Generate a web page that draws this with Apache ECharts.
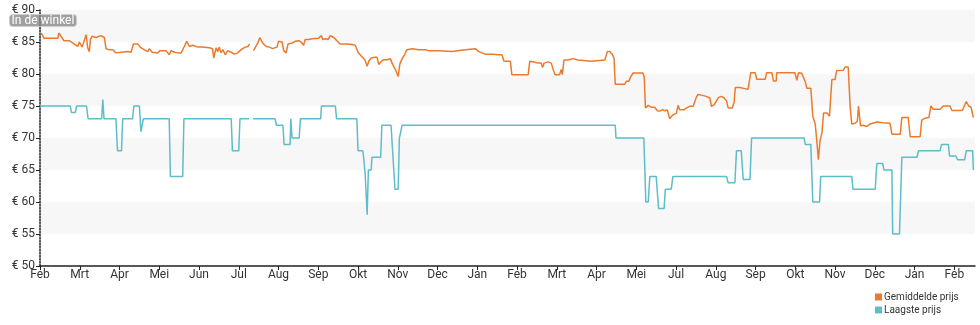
<!DOCTYPE html>
<html>
<head>
<meta charset="utf-8">
<script src="https://cdn.jsdelivr.net/npm/echarts@6/dist/echarts.min.js"></script>
<style>
html,body{margin:0;padding:0;background:#fff;}
#chart{width:980px;height:325px;}
</style>
</head>
<body>
<div id="chart"></div>
<script>
// x values are months since the first February (0 = Feb, 1 = Mrt, ...)
var tickLabels = ['Feb','Mrt','Apr','Mei','Jun','Jul','Aug','Sep','Okt','Nov','Dec','Jan',
                  'Feb','Mrt','Apr','Mei','Jul','Aug','Sep','Okt','Nov','Dec','Jan','Feb'];
var seriesNames = ['Gemiddelde prijs', 'Laagste prijs'];

var avgT = [0.03,0.10,0.45,0.47,0.53,0.60,0.73,0.82,0.95,0.99,1.03,1.06,1.11,1.16,1.20,1.24,1.27,1.31,1.41,1.53,
  1.62,1.66,1.74,1.83,1.91,2.04,2.21,2.29,2.35,2.46,2.52,2.62,2.71,2.75,2.82,2.96,3.02,3.17,3.25,3.30,
  3.38,3.46,3.55,3.63,3.69,3.76,3.84,3.97,4.09,4.26,4.34,4.37,4.43,4.47,4.51,4.55,4.60,4.66,4.72,4.81,
  4.89,4.93,4.97,5.06,5.11,5.16,5.23,5.27,5.32,5.37,5.48,5.53,5.60,5.69,5.77,5.85,5.96,6.00,6.09,6.13,
  6.19,6.24,6.34,6.42,6.51,6.59,6.63,6.67,6.76,6.84,7.01,7.08,7.11,7.18,7.25,7.30,7.39,7.47,7.55,7.72,
  7.85,7.93,8.00,8.08,8.17,8.23,8.27,8.33,8.42,8.48,8.52,8.59,8.65,8.73,8.81,8.87,8.94,9.01,9.05,9.11,
  9.17,9.23,9.36,9.53,9.69,9.78,10.03,10.36,10.70,10.95,11.04,11.20,11.37,11.54,11.62,11.67,11.83,11.87,12.28,12.32,
  12.40,12.53,12.61,12.64,12.68,12.78,12.86,12.91,12.95,13.07,13.11,13.14,13.18,13.28,13.41,13.45,13.53,13.58,13.87,13.91,
  14.21,14.27,14.33,14.39,14.44,14.47,14.71,14.75,14.81,14.86,14.92,15.17,15.20,15.23,15.30,15.38,15.46,15.53,15.59,15.65,
  15.72,15.78,15.84,15.90,15.95,16.01,16.05,16.09,16.13,16.20,16.26,16.34,16.43,16.51,16.55,16.64,16.76,16.85,16.89,16.96,
  17.01,17.07,17.14,17.21,17.27,17.31,17.41,17.46,17.49,17.60,17.64,17.81,17.88,17.99,18.03,18.24,18.28,18.41,18.45,18.52,
  18.53,18.99,19.04,19.08,19.16,19.25,19.29,19.39,19.44,19.50,19.54,19.58,19.62,19.67,19.71,19.80,19.86,19.92,20.00,20.04,
  20.21,20.25,20.33,20.38,20.42,20.50,20.56,20.59,20.64,20.71,20.80,20.88,21.05,21.21,21.38,21.43,21.64,21.68,21.84,21.89,
  22.14,22.18,22.26,22.36,22.41,22.47,22.64,22.72,22.89,22.94,23.20,23.30,23.36,23.42,23.48];
var avgV = [86.4,85.6,85.6,86.4,85.9,85.2,85.2,84.85,84.3,85.0,85.1,84.2,84.1,86.15,84.1,83.5,85.4,85.9,85.7,86.0,
  85.7,83.96,83.8,83.8,83.3,83.4,83.5,83.4,84.7,84.7,84.2,83.8,83.5,83.96,83.4,83.3,83.65,83.65,83.0,83.65,
  83.4,83.3,83.3,84.3,85.1,84.3,84.5,84.2,84.2,84.1,83.96,82.5,84.1,83.5,84.2,83.3,83.8,83.0,83.65,83.4,
  83.1,82.8,83.3,83.8,83.5,84.2,84.3,84.7,null,83.65,84.85,85.7,84.85,84.3,84.2,83.96,84.2,85.1,85.0,83.65,
  83.3,84.7,84.85,85.1,85.2,84.85,84.5,85.4,85.4,85.5,85.6,86.0,85.4,85.5,85.4,86.0,85.7,85.2,84.7,84.7,
  84.6,84.5,83.4,82.8,82.24,81.2,82.0,82.5,82.6,82.6,81.5,82.0,82.24,82.24,82.4,81.5,80.7,79.6,81.5,82.4,
  83.0,83.8,83.96,83.8,83.8,83.65,83.65,83.5,83.8,83.96,83.5,83.1,83.1,83.0,83.0,82.0,82.0,79.9,79.9,82.0,
  81.9,81.7,81.7,81.0,81.7,81.9,81.7,82.0,79.9,79.9,80.7,79.9,82.2,82.2,82.4,82.1,82.2,82.0,82.0,82.2,
  82.2,83.5,83.5,83.1,82.5,78.4,78.4,78.85,78.85,79.6,80.16,80.16,79.5,74.7,75.1,74.8,74.8,74.27,74.2,74.4,
  74.27,74.4,73.0,73.5,73.4,73.9,75.1,74.4,74.27,74.4,74.7,74.95,74.95,76.35,76.8,76.7,76.5,76.25,74.95,75.2,
  75.3,76.35,76.5,76.25,75.8,74.7,74.7,75.5,77.9,77.9,77.7,77.6,80.2,80.2,79.17,79.17,80.2,80.2,78.9,78.9,
  80.2,80.2,79.0,80.2,80.1,78.8,77.76,77.76,73.4,72.2,69.6,66.6,69.5,70.8,73.9,73.9,73.4,79.15,79.15,80.55,
  80.6,81.1,81.1,74.8,72.2,72.3,72.6,75.0,71.9,72.0,71.8,72.2,72.5,72.4,72.3,70.6,70.6,73.2,73.2,70.2,
  70.2,72.8,73.1,73.2,75.0,74.5,74.5,75.0,75.0,74.3,74.3,75.7,75.0,74.8,73.2];

var lowT = [0.00,0.76,0.79,0.89,0.92,1.17,1.21,1.55,1.58,1.61,1.91,1.95,2.05,2.08,2.33,2.36,2.50,2.54,2.60,3.25,
  3.28,3.59,3.62,4.81,4.84,5.00,5.03,5.26,5.31,5.36,5.91,5.95,6.11,6.14,6.29,6.31,6.34,6.52,6.55,7.06,
  7.08,7.43,7.46,7.97,8.00,8.12,8.14,8.18,8.21,8.23,8.26,8.33,8.35,8.57,8.60,8.83,8.93,9.01,9.04,9.11,
  14.47,14.49,15.19,15.24,15.30,15.34,15.50,15.56,15.70,15.73,15.88,15.92,17.27,17.31,17.48,17.52,17.64,17.69,17.86,17.90,
  19.22,19.25,19.39,19.44,19.61,19.64,20.42,20.45,21.01,21.05,21.20,21.23,21.43,21.45,21.62,21.68,22.06,22.10,22.64,22.68,
  22.85,22.88,23.04,23.08,23.26,23.30,23.46,23.48];
var lowV = [75,75,74,74,75,75,73,73,76,73,73,68,68,73,73,75,75,71,73,73,
  64,64,73,73,68,68,73,73,null,73,73,72,72,69,69,73,70,70,73,73,
  75,75,73,73,68,68,67,64.3,64.3,58,65,65,67,67,72,72,62,62,70,72,
  72,70,70,60,60,64,64,59,59,62,62,64,64,63,63,68,68,63.5,63.5,70,
  70,69,69,60,60,64,64,62,62,66,66,65,65,55,55,67,67,68,68,69,
  69,67.2,67.2,66.6,66.6,68,68,65];

function pairs(t, v) {
  return t.map(function (x, i) { return [x, v[i]]; });
}

var chart = echarts.init(document.getElementById('chart'), null, {renderer: 'canvas'});
var fontFamily = 'Roboto, "Noto Sans", sans-serif';
var ticks = tickLabels.map(function (_, i) { return i; });

chart.setOption({
  animation: false,
  textStyle: {fontFamily: fontFamily},
  grid: {left: 40, right: 5, top: 10, bottom: 59},
  xAxis: {
    type: 'value',
    min: 0,
    max: 23.52,
    axisLine: {show: true, lineStyle: {color: '#222', width: 1.5}},
    axisTick: {show: true, length: 4, lineStyle: {color: '#222'}, customValues: ticks},
    axisLabel: {
      color: '#333', fontSize: 12, margin: 3, fontFamily: fontFamily,
      customValues: ticks,
      formatter: function (v) { return tickLabels[Math.round(v)] || ''; }
    },
    splitLine: {show: false}
  },
  yAxis: {
    type: 'value',
    min: 50,
    max: 90,
    interval: 5,
    axisLine: {show: true, lineStyle: {color: '#222', width: 1.5, type: [1.5, 1.5]}},
    axisTick: {show: true, length: 4, lineStyle: {color: '#222'}},
    axisLabel: {
      color: '#333', fontSize: 12, margin: 5, fontFamily: fontFamily,
      formatter: function (v) { return '\u20ac ' + v; }
    },
    splitLine: {show: false},
    splitArea: {show: true, areaStyle: {color: ['rgba(255,255,255,0)', '#f7f7f7']}}
  },
  legend: {
    orient: 'vertical',
    left: 875,
    top: 292,
    padding: 0,
    itemWidth: 7,
    itemHeight: 7,
    itemGap: 3,
    icon: 'rect',
    textStyle: {color: '#333', fontSize: 10, fontFamily: fontFamily, padding: [0, 0, 0, -3]},
    data: seriesNames
  },
  graphic: [{
    type: 'rect',
    z: 100,
    shape: {x: 9.5, y: 14.5, width: 67, height: 12, r: 3},
    style: {fill: 'rgba(135,135,135,0.78)', stroke: 'rgba(205,205,205,0.9)', lineWidth: 1}
  }, {
    type: 'text',
    z: 101,
    x: 43, y: 20.5,
    style: {text: 'In de winkel', fill: '#fff', font: '12px ' + fontFamily, align: 'center', verticalAlign: 'middle'}
  }],
  series: [{
    name: seriesNames[0],
    type: 'line',
    data: pairs(avgT, avgV),
    showSymbol: false,
    connectNulls: false,
    color: '#eb7a2d',
    lineStyle: {width: 1.5, color: '#eb7a2d'}
  }, {
    name: seriesNames[1],
    type: 'line',
    data: pairs(lowT, lowV),
    showSymbol: false,
    connectNulls: false,
    color: '#5ebdc8',
    lineStyle: {width: 1.5, color: '#5ebdc8'}
  }]
});
</script>
</body>
</html>
